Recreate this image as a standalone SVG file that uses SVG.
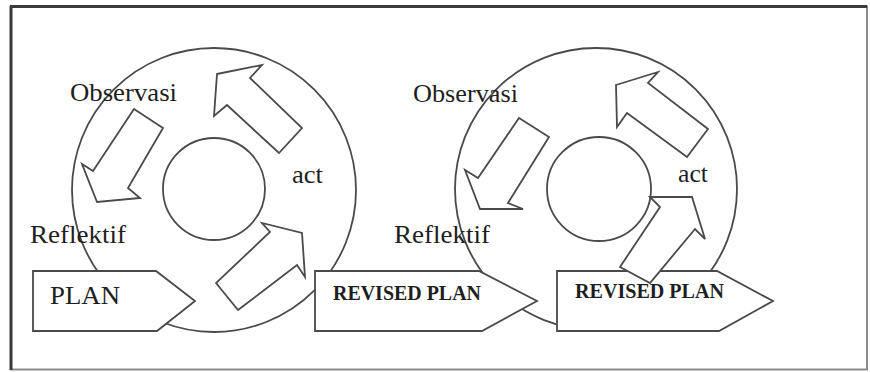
<svg xmlns="http://www.w3.org/2000/svg" width="870" height="372" viewBox="0 0 870 372">
  <style>
    .ring { fill: white; stroke: #4a4a4a; stroke-width: 1.8; }
    .hub { fill: white; stroke: #4a4a4a; stroke-width: 1.8; }
    .tag { fill: white; stroke: #4a4a4a; stroke-width: 1.8; stroke-linejoin: miter; }
    .blk { fill: white; stroke: #4a4a4a; stroke-width: 1.8; stroke-linejoin: miter; }
    .lbl { font-family: "Liberation Serif", "Times New Roman", serif; fill: #1e1e1e; font-size: 25px; }
    .tagtxt { font-family: "Liberation Serif", "Times New Roman", serif; fill: #1e1e1e; font-weight: bold; }
  </style>
  <rect x="0" y="0" width="870" height="372" fill="white"/>
  <g id="frame">
    <rect x="11" y="6.5" width="856" height="363" fill="none" stroke="#8a8a8a" stroke-width="2"/>
    <line x1="10" y1="6.5" x2="867" y2="6.5" stroke="#3a3a3a" stroke-width="3"/>
    <line x1="11" y1="6" x2="11" y2="370" stroke="#3a3a3a" stroke-width="3"/>
  </g>
  <g id="cycle1">
    <circle class="ring" cx="214" cy="190" r="142"/>
    <circle class="hub" cx="214" cy="189" r="51"/>
  </g>
  <g id="cycle2">
    <circle class="ring" cx="596" cy="189" r="141"/>
    <circle class="hub" cx="599" cy="189" r="52"/>
  </g>
  <g id="plan">
    <polygon class="tag" points="33,271 156,271 195,301 157,331 33,331"/>
    <text class="lbl" x="50" y="304" font-size="27" textLength="70" lengthAdjust="spacingAndGlyphs">PLAN</text>
  </g>
  <g id="revised-plan-1">
    <polygon class="tag" points="315,271 479,271 537,301 482,331 315,331"/>
    <text class="tagtxt" x="333" y="300" font-size="21" textLength="148" lengthAdjust="spacingAndGlyphs">REVISED PLAN</text>
  </g>
  <g id="revised-plan-2">
    <polygon class="tag" points="557,271 717,271 773,301 719,331 557,331"/>
    <text class="tagtxt" x="575" y="298" font-size="21" textLength="149" lengthAdjust="spacingAndGlyphs">REVISED PLAN</text>
  </g>
  <g id="connectors">
    <polygon class="blk" points="134,109 163,128 128,188 140,198 97,202 82,164 93,171"/>
    <polygon class="blk" points="217,74 262,65 250,78 302,128 279,153 227,105 214,116"/>
    <polygon class="blk" points="216,283 238,310 297,265 305,277 302,233 262,223 270,232"/>
    <polygon class="blk" points="519,118 549,137 508,203 523,209 480,209 465,170 478,178"/>
    <polygon class="blk" points="616,85 658,72 648,83 708,129 687,157 627,113 617,127"/>
    <polygon class="blk" points="620,267 650,283 695,229 705,239 692,197 650,197 660,207"/>
  </g>
  <g id="labels1">
    <text class="lbl" x="70" y="101" textLength="107" lengthAdjust="spacingAndGlyphs">Observasi</text>
    <text class="lbl" x="292" y="183" textLength="31" lengthAdjust="spacingAndGlyphs">act</text>
    <text class="lbl" x="30" y="243" font-size="26" textLength="96" lengthAdjust="spacingAndGlyphs">Reflektif</text>
  </g>
  <g id="labels2">
    <text class="lbl" x="413" y="101.5" textLength="105" lengthAdjust="spacingAndGlyphs">Observasi</text>
    <text class="lbl" x="678" y="181.5" textLength="30" lengthAdjust="spacingAndGlyphs">act</text>
    <text class="lbl" x="394" y="243" font-size="26" textLength="96" lengthAdjust="spacingAndGlyphs">Reflektif</text>
  </g>
</svg>
